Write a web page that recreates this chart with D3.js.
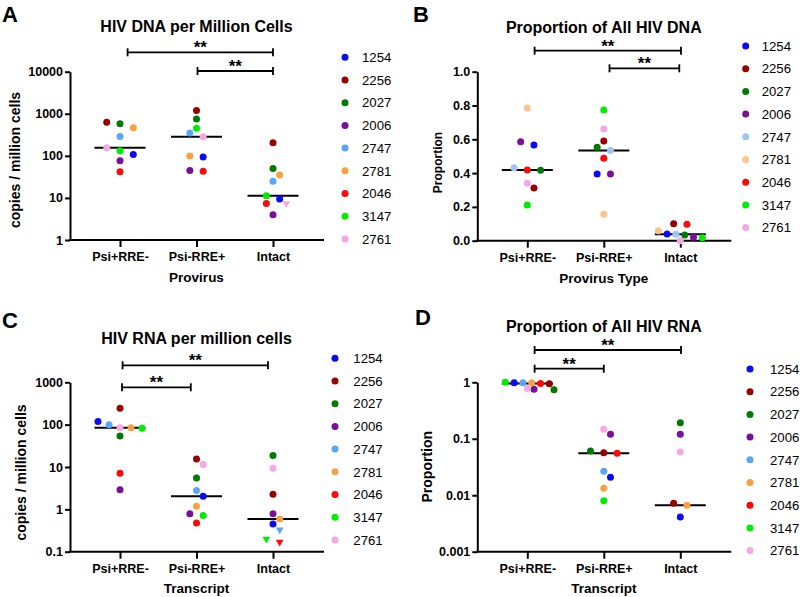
<!DOCTYPE html>
<html><head><meta charset="utf-8">
<script src="https://cdn.jsdelivr.net/npm/d3@7"></script>
<style>
body{margin:0;background:#fff}
svg{display:block}
text{font-family:"Liberation Sans",Arial,Helvetica,sans-serif;fill:#000}
</style>
</head><body>
<svg id="chart" width="800" height="597"></svg>
<script>
// ---------------- DATA ----------------
const donors = ["1254","2256","2027","2006","2747","2781","2046","3147","2761"];
const categories = ["Psi+RRE-","Psi-RRE+","Intact"];

// A: HIV DNA copies per million cells (donor order)
const dnaPsiPlus  = [108, 630, 580, 76, 290, 465, 42, 132, 155];
const dnaRREPlus  = [94, 1200, 750, 45, 350, 99, 43, 450, 285];
const dnaIntact   = [9.4, 205, 50, 4.0, 25, 35, 7.4, 11.3, 7.4];
const dnaIntactBelowLOD = ["2761"];

// B: proportion of all HIV DNA
const propDnaPsiPlus = [0.566, 0.312, 0.417, 0.586, 0.432, 0.785, 0.418, 0.211, 0.340];
const propDnaRREPlus = [0.395, 0.590, 0.553, 0.395, 0.533, 0.156, 0.488, 0.773, 0.661];
const propDnaIntact  = [0.040, 0.100, 0.034, 0.020, 0.038, 0.059, 0.097, 0.018, 0.000];

// C: HIV RNA copies per million cells
const rnaPsiPlus = [118, 244, 54, 2.9, 100, 84, 7.1, 82, 85];
const rnaRREPlus = [2.03, 15.5, 5.5, 0.79, 2.8, 1.18, 0.475, 0.72, 11.4];
const rnaIntact  = [0.45, 2.26, 18.6, 0.79, 0.33, 0.59, 0.17, 0.20, 9.3];
const rnaIntactBelowLOD = ["2747","2046","3147"];

// D: proportion of all HIV RNA (0 = not detected, not plotted on log axis)
const propRnaPsiPlus = [0.98, 0.945, 0.74, 0.75, 0.98, 0.98, 0.955, 1.0, 0.78];
const propRnaRREPlus = [0.0208, 0.0568, 0.0608, 0.12, 0.0266, 0.0133, 0.0553, 0.0080, 0.147];
const propRnaIntact  = [0.0041, 0.0072, 0.193, 0.12, 0, 0.00665, 0, 0, 0.0584];

// tick values
const ticksA = [1, 10, 100, 1000, 10000];
const ticksB = [0, 0.2, 0.4, 0.6, 0.8, 1.0];
const ticksC = [0.1, 1, 10, 100, 1000];
const ticksD = [0.001, 0.01, 0.1, 1];
const tickLabelsC = ["0.1","1","10","100","1000"];
const tickLabelsD = ["0.001","0.01","0.1","1"];

// colours
const paletteMain = ["#0b0bef","#990000","#007a00","#7a0f9a","#5aa6f6","#f9a040","#ff0808","#00ec00","#f4a9e2"];
const paletteLight = ["#0b0bef","#990000","#007a00","#7a0f9a","#9dc6f8","#fcc38c","#ff0808","#00ec00","#f4a9e2"];

// ---------------- LAYOUT ----------------
const panels = [
  {letter:"A", lx:2, ly:22, title:"HIV DNA per Million Cells", ty:32,
   yLabel:"copies / million cells", ylx:19.5, yly:160, ylSize:14,
   xLabel:"Provirus", xly:282,
   series:[dnaPsiPlus, dnaRREPlus, dnaIntact], lod:[[],[],dnaIntactBelowLOD],
   log:true, domain:[1,10000], ticks:ticksA, fmt:d=>String(d),
   x0:70, yTop:71.7, yBot:240, palette:paletteMain,
   brackets:[{a:0,b:2,y:52.3,na:7.6,nb:0},{a:1,b:2,y:71,na:1,nb:0}],
   legend:{dx:345, tx:362, y0:57.3}},
  {letter:"B", lx:413, ly:22, title:"Proportion of All HIV DNA", ty:33,
   yLabel:"Proportion", ylx:442, yly:162.5, ylSize:12,
   xLabel:"Provirus Type", xly:283,
   series:[propDnaPsiPlus, propDnaRREPlus, propDnaIntact], lod:[[],[],[]],
   log:false, domain:[0,1], ticks:ticksB, fmt:d3.format(".1f"),
   x0:477.3, yTop:71.7, yBot:240.7, palette:paletteLight,
   brackets:[{a:0,b:2,y:50.7,na:7.3,nb:0.7},{a:1,b:2,y:68.3,na:5.7,nb:-1}],
   legend:{dx:745.7, tx:761.7, y0:46}},
  {letter:"C", lx:2, ly:328, title:"HIV RNA per million cells", ty:344,
   yLabel:"copies / million cells", ylx:26, yly:472.5, ylSize:14,
   xLabel:"Transcript", xly:592.5,
   series:[rnaPsiPlus, rnaRREPlus, rnaIntact], lod:[[],[],rnaIntactBelowLOD],
   log:true, domain:[0.1,1000], ticks:ticksC, fmt:(d,i)=>tickLabelsC[i],
   x0:70, yTop:382.3, yBot:551.7, palette:paletteMain,
   brackets:[{a:0,b:2,y:365.3,na:2.6,nb:-5},{a:0,b:1,y:387.3,na:2,nb:-5.7}],
   legend:{dx:335, tx:353.3, y0:358.3}},
  {letter:"D", lx:415, ly:325, title:"Proportion of All HIV RNA", ty:331.5,
   yLabel:"Proportion", ylx:432, yly:466.7, ylSize:14,
   xLabel:"Transcript", xly:593,
   series:[propRnaPsiPlus, propRnaRREPlus, propRnaIntact], lod:[[],[],[]],
   log:true, domain:[0.001,1], ticks:ticksD, fmt:(d,i)=>tickLabelsD[i],
   x0:477.3, yTop:382.3, yBot:551.7, palette:paletteMain,
   brackets:[{a:0,b:2,y:350,na:7.3,nb:0.7},{a:0,b:1,y:368.7,na:7.3,nb:0}],
   legend:{dx:750, tx:770, y0:369}}
];

const svg = d3.select("#chart");
panels.forEach(drawPanel);

// GraphPad-like scatter spreading: group near-equal values into rows, centre each row,
// then nudge any point that still collides.
function layoutColumn(pts){
  const sorted = pts.slice().sort((a,b)=>a.py-b.py);
  const rows = []; let cur = null;
  sorted.forEach(pt=>{
    if (cur && pt.py - cur[0].py < 7.5 && pt.py - cur[cur.length-1].py < 4.5) cur.push(pt);
    else { cur = [pt]; rows.push(cur); }
  });
  rows.forEach(r=>{
    const n = r.length;
    const s = n > 1 ? Math.min(13.3, 44/(n-1)) : 0;
    r.forEach((pt,i)=>{ pt.dx = (i-(n-1)/2)*s; });
  });
  const placed = [];
  const hits = (dx, pt) => placed.some(q => Math.hypot(q.dx-dx, q.py-pt.py) < 6.6);
  sorted.forEach(pt=>{
    if (hits(pt.dx, pt)) {
      const base = pt.dx;
      for (let k=1;k<12;k++){
        const c1 = base + k*6.7, c2 = base - k*6.7;
        if (!hits(c1, pt)) { pt.dx = c1; break; }
        if (!hits(c2, pt)) { pt.dx = c2; break; }
      }
    }
    placed.push(pt);
  });
}

function drawPanel(p){
  const g = svg.append("g");
  const AX_LEN = 254;
  const xs = d3.scalePoint().domain(categories).range([p.x0+50, p.x0+203]);
  const ys = (p.log ? d3.scaleLog() : d3.scaleLinear()).domain(p.domain).range([p.yBot, p.yTop]);

  // y axis
  const ya = g.append("g").attr("transform",`translate(${p.x0},0)`)
    .call(d3.axisLeft(ys).tickValues(p.ticks).tickFormat(p.fmt).tickSize(5).tickSizeOuter(0).tickPadding(2));
  ya.select(".domain").attr("stroke","#000").attr("stroke-width",2);
  ya.selectAll(".tick line").attr("stroke","#000").attr("stroke-width",2);
  ya.selectAll(".tick text").attr("font-size",12.5).attr("font-weight","bold")
    .attr("font-family","'Liberation Sans',Arial,sans-serif").attr("fill","#000");

  // x axis
  const xa = g.append("g").attr("transform",`translate(0,${p.yBot})`)
    .call(d3.axisBottom(xs).tickSize(7).tickPadding(5));
  xa.select(".domain").remove();
  xa.selectAll(".tick line").attr("stroke","#000").attr("stroke-width",2);
  xa.selectAll(".tick text").attr("font-size",12.5).attr("font-weight","bold")
    .attr("font-family","'Liberation Sans',Arial,sans-serif").attr("fill","#000");
  g.append("line").attr("x1",p.x0-1).attr("x2",p.x0+AX_LEN).attr("y1",p.yBot).attr("y2",p.yBot)
    .attr("stroke","#000").attr("stroke-width",2);

  // texts
  g.append("text").attr("x",p.lx).attr("y",p.ly).attr("font-size",22).attr("font-weight","bold").text(p.letter);
  const cx = xs(categories[1]);
  g.append("text").attr("x",cx).attr("y",p.ty).attr("text-anchor","middle")
    .attr("font-size",16).attr("font-weight","bold").text(p.title);
  g.append("text").attr("x",cx).attr("y",p.xly).attr("text-anchor","middle")
    .attr("font-size",13.5).attr("font-weight","bold").text(p.xLabel);
  g.append("text").attr("transform",`translate(${p.ylx},${p.yly}) rotate(-90)`).attr("text-anchor","middle")
    .attr("font-size",p.ylSize).attr("font-weight","bold").text(p.yLabel);

  // medians
  p.series.forEach((vals,ci)=>{
    const m = d3.median(vals);
    const x = xs(categories[ci]);
    g.append("line").attr("x1",x-25.5).attr("x2",x+25.5).attr("y1",ys(m)).attr("y2",ys(m))
      .attr("stroke","#000").attr("stroke-width",2);
  });

  // points
  p.series.forEach((vals,ci)=>{
    const pts = [];
    vals.forEach((v,di)=>{
      if (p.log && !(v > 0)) return;
      pts.push({v, di, py: ys(v), tri: p.lod[ci].includes(donors[di])});
    });
    layoutColumn(pts);
    const xc = xs(categories[ci]);
    pts.forEach(pt=>{
      const col = p.palette[pt.di];
      if (pt.tri) {
        g.append("path").attr("d", d3.symbol().type(d3.symbolTriangle).size(26)())
          .attr("transform",`translate(${xc+pt.dx},${pt.py}) rotate(180)`).attr("fill",col);
      } else {
        g.append("circle").attr("cx",xc+pt.dx).attr("cy",pt.py).attr("r",3.5).attr("fill",col);
      }
    });
  });

  // significance brackets
  p.brackets.forEach(b=>{
    const x1 = xs(categories[b.a]) + b.na, x2 = xs(categories[b.b]) + b.nb;
    const bg = g.append("g").attr("stroke","#000").attr("stroke-width",1.8);
    bg.append("line").attr("x1",x1).attr("x2",x2).attr("y1",b.y).attr("y2",b.y);
    bg.append("line").attr("x1",x1).attr("x2",x1).attr("y1",b.y-4).attr("y2",b.y+4);
    bg.append("line").attr("x1",x2).attr("x2",x2).attr("y1",b.y-4).attr("y2",b.y+4);
    g.append("text").attr("x",(x1+x2)/2).attr("y",b.y+1).attr("text-anchor","middle")
      .attr("font-size",17).attr("font-weight","bold").text("**");
  });

  // legend
  donors.forEach((d,i)=>{
    const y = p.legend.y0 + i*22.7;
    g.append("circle").attr("cx",p.legend.dx).attr("cy",y).attr("r",3.5).attr("fill",p.palette[i]);
    g.append("text").attr("x",p.legend.tx).attr("y",y).attr("dy","0.36em").attr("font-size",13.2).text(d);
  });
}
</script>
</body></html>
